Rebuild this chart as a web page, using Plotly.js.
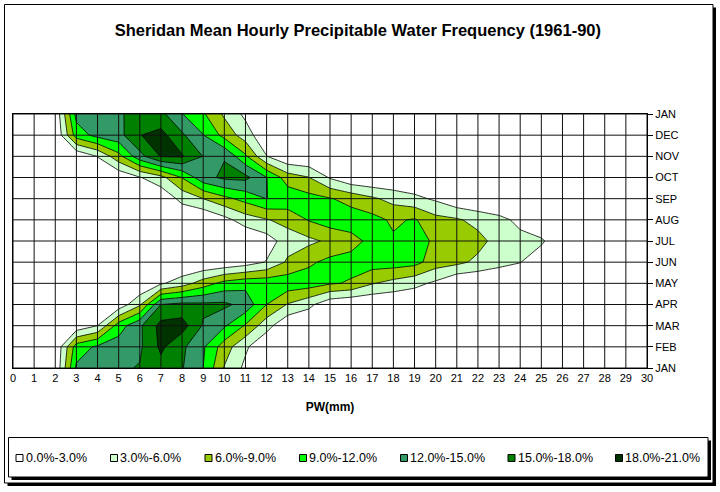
<!DOCTYPE html>
<html><head><meta charset="utf-8">
<script src="https://cdn.plot.ly/plotly-3.0.1.min.js"></script>
<style>html,body{margin:0;padding:0;background:#fff;} #chart{width:720px;height:492px;}</style>
</head><body><div id="chart"></div>
<script>
// ---- data ----
const pwBins = [0,1,2,3,4,5,6,7,8,9,10,11,12,13,14,15,16,17,18,19,20,21,22,23,24,25,26,27,28,29,30];
const monthPos = [0,1,2,3,4,5,6,7,8,9,10,11,12];
const monthLabels = ['JAN','FEB','MAR','APR','MAY','JUN','JUL','AUG','SEP','OCT','NOV','DEC','JAN'];
const bandLabels = ['0.0%-3.0%','3.0%-6.0%','6.0%-9.0%','9.0%-12.0%','12.0%-15.0%','15.0%-18.0%','18.0%-21.0%'];
const bandColors = ['#ffffff','#ccffcc','#99cc00','#00ff00','#339966','#008000','#003300'];

// hourly PW frequency (%) per 1 mm bin, one row per month
const freqJan    = [0,0,0.3,12.5,13.5,14.5,15.2,17,15.2,12,5.8,2.3,0.3,0,0,0,0,0,0,0,0,0,0,0,0,0,0,0,0,0,0];
const freqFeb    = [0,0,0.2,10.5,12.5,13.5,14.5,18.6,15.6,12.4,7.5,3.5,0.3,0,0,0,0,0,0,0,0,0,0,0,0,0,0,0,0,0,0];
const freqMar    = [0,0,0,0.8,3.0,10.5,14.5,19,19.3,14.7,12.4,8.7,4.2,0.3,0,0,0,0,0,0,0,0,0,0,0,0,0,0,0,0,0];
const freqApr    = [0,0,0,0,0,1,5.5,15,15.8,15.6,15.6,14,9,5.8,3.8,0.8,0,0,0,0,0,0,0,0,0,0,0,0,0,0,0];
const freqMay    = [0,0,0,0,0,0,0,2.6,4.5,7.5,10,11,11,10.8,10.5,9.3,8.7,6.2,5,3.9,2.4,0,0,0,0,0,0,0,0,0,0];
const freqJun    = [0,0,0,0,0,0,0,0,0,0,0.5,1.5,3.2,6.5,8.5,9.8,10,10.5,10.5,10,7.5,6.8,5.3,4,3.1,1,0,0,0,0,0];
const freqJul    = [0,0,0,0,0,0,0,0,0,0,0,0,1.5,4.5,5.3,6.6,8,9.8,9.4,10.2,8.5,7.5,7,4.8,3.8,3.5,0.5,0,0,0,0];
const freqAug    = [0,0,0,0,0,0,0,0,0,0,2,4.5,5.8,7,9.2,10.5,10.5,10,8.5,9.3,7,6.4,5,3.8,2.3,0,0,0,0,0,0];
const freqSep    = [0,0,0,0,0,0,0,0.5,4,6,8.2,10,12.05,11,10,9.2,8,6.5,5,3.8,2.5,0.5,0,0,0,0,0,0,0,0,0];
const freqOct    = [0,0,0,0,0,0.5,2.8,5,9.1,14,15.6,15.8,12.1,7.5,6.1,2.7,0.5,0,0,0,0,0,0,0,0,0,0,0,0,0,0];
const freqNov    = [0,0,0,0.3,3.1,8,14,18.2,18.3,14.9,14.8,9.5,3.1,0.3,0,0,0,0,0,0,0,0,0,0,0,0,0,0,0,0,0];
const freqDec    = [0,0,0,10.5,13,14,17.9,19,15.5,12.1,8,4.5,0.5,0,0,0,0,0,0,0,0,0,0,0,0,0,0,0,0,0,0];
const freqJanEnd = [0,0,0.5,13,13.5,14.5,16.5,15.8,12.1,9.4,5.5,2.3,0.3,0,0,0,0,0,0,0,0,0,0,0,0,0,0,0,0,0,0];

const levelStart = 3, levelEnd = 18, levelStep = 3;

// ---- layout geometry ----
const W = 720, H = 492;
const M = {l: 13, r: 73, t: 114, b: 124};
const PW = W - M.l - M.r, PH = H - M.t - M.b;
const fx = px => (px - M.l) / PW;
const fy = py => (M.t + PH - py) / PH;
const FONT = 'Arial, "Liberation Sans", sans-serif';

const zRows = [freqJan, freqFeb, freqMar, freqApr, freqMay, freqJun, freqJul,
               freqAug, freqSep, freqOct, freqNov, freqDec, freqJanEnd];

// stepped colorscale, one flat step per band
const n = bandColors.length;
const colorscale = [];
bandColors.forEach((c, i) => {
  const a = i === 0 ? 0 : (2 * i - 1) / (2 * (n - 1));
  const b = i === n - 1 ? 1 : (2 * i + 1) / (2 * (n - 1));
  colorscale.push([a, c]); colorscale.push([b, c]);
});

const trace = {
  type: 'contour',
  x: pwBins, y: monthPos, z: zRows,
  colorscale: colorscale,
  showscale: false,
  contours: {start: levelStart, end: levelEnd, size: levelStep, coloring: 'fill'},
  line: {color: '#000', width: 0.8, smoothing: 0},
  hoverinfo: 'skip'
};

const shapes = [];
// grid drawn above the filled contours
pwBins.forEach(v => shapes.push({type: 'line', xref: 'x', yref: 'paper', x0: v, x1: v, y0: 0, y1: 1,
  line: {color: '#111', width: 1}, layer: 'above'}));
monthPos.forEach(v => shapes.push({type: 'line', xref: 'paper', yref: 'y', x0: 0, x1: 1, y0: v, y1: v,
  line: {color: '#111', width: 1}, layer: 'above'}));

// frame boxes with drop shadow
function boxWithShadow(x0, y0, x1, y1, sh) {
  shapes.push({type: 'rect', xref: 'paper', yref: 'paper', x0: fx(x1), x1: fx(x1 + sh), y0: fy(y0 + sh), y1: fy(y1 + sh),
    fillcolor: '#000', line: {width: 0}, layer: 'above'});
  shapes.push({type: 'rect', xref: 'paper', yref: 'paper', x0: fx(x0 + sh), x1: fx(x1 + sh), y0: fy(y1), y1: fy(y1 + sh),
    fillcolor: '#000', line: {width: 0}, layer: 'above'});
  shapes.push({type: 'rect', xref: 'paper', yref: 'paper', x0: fx(x0), x1: fx(x1), y0: fy(y1), y1: fy(y0),
    line: {color: '#000', width: 1}, fillcolor: 'rgba(0,0,0,0)', layer: 'above'});
}
boxWithShadow(4.5, 4.5, 713, 483, 3);
boxWithShadow(8.5, 437.5, 708, 477, 3);

// custom legend
const annotations = [];
let lx = 16;
const ly = 458;
bandLabels.forEach((lab, i) => {
  shapes.push({type: 'rect', xref: 'paper', yref: 'paper', x0: fx(lx), x1: fx(lx + 7), y0: fy(ly + 3.5), y1: fy(ly - 3.5),
    fillcolor: bandColors[i], line: {color: '#000', width: 1}, layer: 'above'});
  annotations.push({xref: 'paper', yref: 'paper', x: fx(lx + 7.5), y: fy(ly), xanchor: 'left', yanchor: 'middle',
    text: lab, showarrow: false, font: {family: FONT, size: 12.5, color: '#000'}});
  lx += 36 + 6.5 * lab.length;
});

const layout = {
  width: W, height: H,
  margin: M,
  paper_bgcolor: '#fff', plot_bgcolor: '#fff',
  showlegend: false,
  font: {family: FONT, color: '#000'},
  title: {text: '<b>Sheridan Mean Hourly Precipitable Water Frequency (1961-90)</b>',
    font: {family: FONT, size: 16.5, color: '#000'}, x: 0.497, xanchor: 'center', y: 1 - 30 / H, yanchor: 'middle'},
  xaxis: {range: [0, 30], tickvals: pwBins, ticktext: pwBins.map(String), ticks: '', showgrid: false, zeroline: false,
    tickfont: {family: FONT, size: 11, color: '#000'}, showline: true, linecolor: '#000', mirror: true,
    title: {text: '<b>PW(mm)</b>', font: {family: FONT, size: 12, color: '#000'}, standoff: 19}},
  yaxis: {range: [0, 12], side: 'right', tickvals: monthPos, ticktext: monthLabels, ticks: 'outside', ticklen: 5,
    tickcolor: '#000', showgrid: false, zeroline: false, tickfont: {family: FONT, size: 11, color: '#000'},
    showline: true, linecolor: '#000', mirror: true},
  shapes: shapes,
  annotations: annotations
};

Plotly.newPlot('chart', [trace], layout, {displayModeBar: false, staticPlot: true});
</script></body></html>
